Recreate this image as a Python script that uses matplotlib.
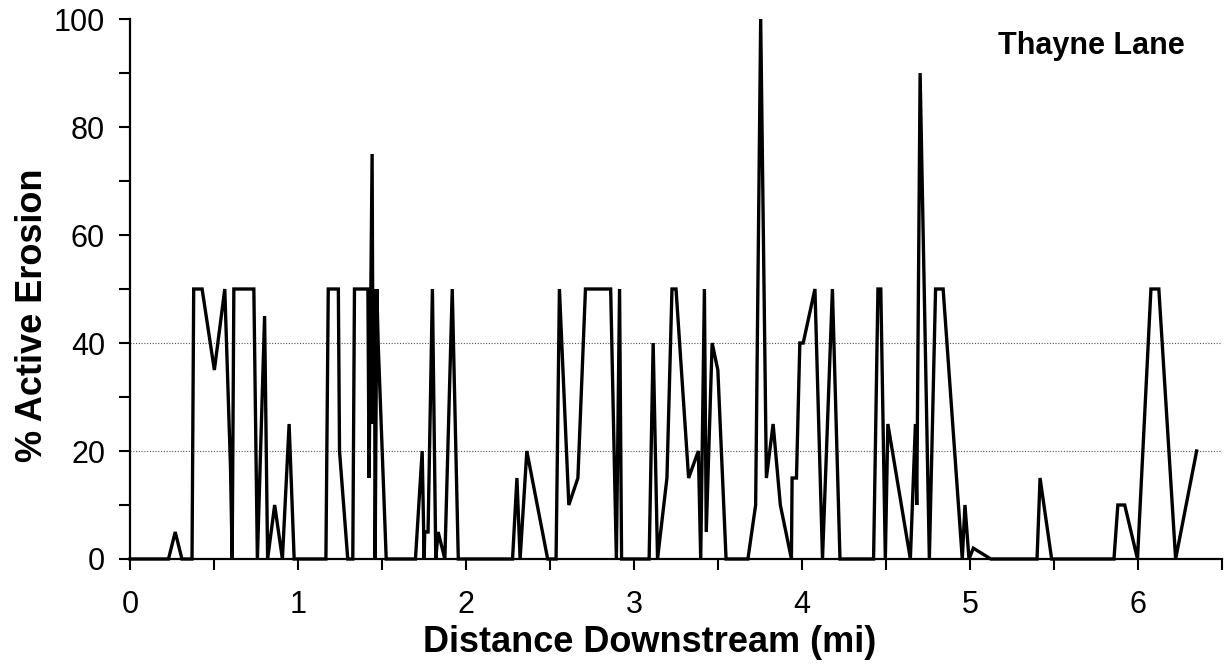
import numpy as np
import matplotlib
matplotlib.use("Agg")
import matplotlib.pyplot as plt
from matplotlib.ticker import MultipleLocator

# distance downstream (mi) and % active erosion
distance = [0.0, 0.229, 0.269, 0.309, 0.369, 0.379, 0.429, 0.502, 0.564, 0.598,
            0.608, 0.618, 0.737, 0.758, 0.801, 0.819, 0.861, 0.907, 0.947, 0.977,
            1.166, 1.180, 1.240, 1.247, 1.296, 1.326, 1.336, 1.416, 1.423, 1.441,
            1.447, 1.455, 1.459, 1.469, 1.477, 1.525, 1.699, 1.739, 1.751, 1.754,
            1.774, 1.800, 1.820, 1.834, 1.874, 1.918, 1.954, 2.277, 2.303, 2.322,
            2.362, 2.486, 2.536, 2.556, 2.612, 2.666, 2.711, 2.861, 2.895, 2.914,
            2.926, 3.090, 3.114, 3.140, 3.196, 3.226, 3.250, 3.325, 3.383, 3.397,
            3.419, 3.430, 3.465, 3.499, 3.548, 3.678, 3.724, 3.754, 3.788, 3.828,
            3.871, 3.937, 3.941, 3.967, 3.987, 4.007, 4.077, 4.122, 4.181, 4.226,
            4.426, 4.452, 4.469, 4.496, 4.511, 4.645, 4.675, 4.683, 4.703, 4.758,
            4.795, 4.840, 4.954, 4.970, 4.994, 5.020, 5.124, 5.399, 5.417, 5.486,
            5.857, 5.880, 5.921, 5.997, 6.077, 6.124, 6.224, 6.349]
erosion = [0, 0, 5, 0, 0, 50, 50, 35, 50, 17,
           0, 50, 50, 0, 45, 0, 10, 0, 25, 0,
           0, 50, 50, 20, 0, 0, 50, 50, 15, 75,
           25, 50, 0, 50, 40, 0, 0, 20, 0, 5,
           5, 50, 0, 5, 0, 50, 0, 0, 15, 0,
           20, 0, 0, 50, 10, 15, 50, 50, 0, 50,
           0, 0, 40, 0, 15, 50, 50, 15, 20, 0,
           50, 5, 40, 35, 0, 0, 10, 100, 15, 25,
           10, 0, 15, 15, 40, 40, 50, 0, 50, 0,
           0, 50, 50, 0, 25, 0, 25, 10, 90, 0,
           50, 50, 0, 10, 0, 2, 0, 0, 15, 0,
           0, 10, 10, 0, 50, 50, 0, 20]

grid_levels = [20, 40]
site_name = "Thayne Lane"

plt.rcParams['font.family'] = ['Liberation Sans', 'DejaVu Sans']

fig = plt.figure(figsize=(12.29, 6.65), dpi=100)
ax = fig.add_axes([0.1058, 0.1594, 0.8885, 0.8120])

for lvl in grid_levels:
    ax.axhline(lvl, color='#555555', linestyle=(0, (1, 1.5)), linewidth=0.8, zorder=1)

ax.plot(distance, erosion, color='black', linewidth=2.4, clip_on=False, zorder=3,
        solid_joinstyle='miter')

ax.set_xlim(0, 6.5)
ax.set_ylim(0, 100)
ax.xaxis.set_major_locator(MultipleLocator(1))
ax.xaxis.set_minor_locator(MultipleLocator(0.5))
ax.yaxis.set_major_locator(MultipleLocator(20))
ax.yaxis.set_minor_locator(MultipleLocator(10))

for side in ['top', 'right']:
    ax.spines[side].set_visible(False)
for side in ['left', 'bottom']:
    ax.spines[side].set_linewidth(1.6)
    ax.spines[side].set_zorder(4)

ax.tick_params(axis='both', which='both', direction='out', length=8, width=1.5,
               labelsize=22)
ax.tick_params(axis='y', which='major', pad=10)
ax.tick_params(axis='x', which='major', pad=14)

ax.set_xlabel('Distance Downstream (mi)', fontsize=26, fontweight='bold',
              labelpad=4, x=0.476)
ax.set_ylabel('% Active Erosion', fontsize=26, fontweight='bold',
              labelpad=3, y=0.452)

ax.text(0.966, 0.978, site_name, transform=ax.transAxes, ha='right', va='top',
        fontsize=22, fontweight='bold')

fig.savefig('out.png', dpi=100)
